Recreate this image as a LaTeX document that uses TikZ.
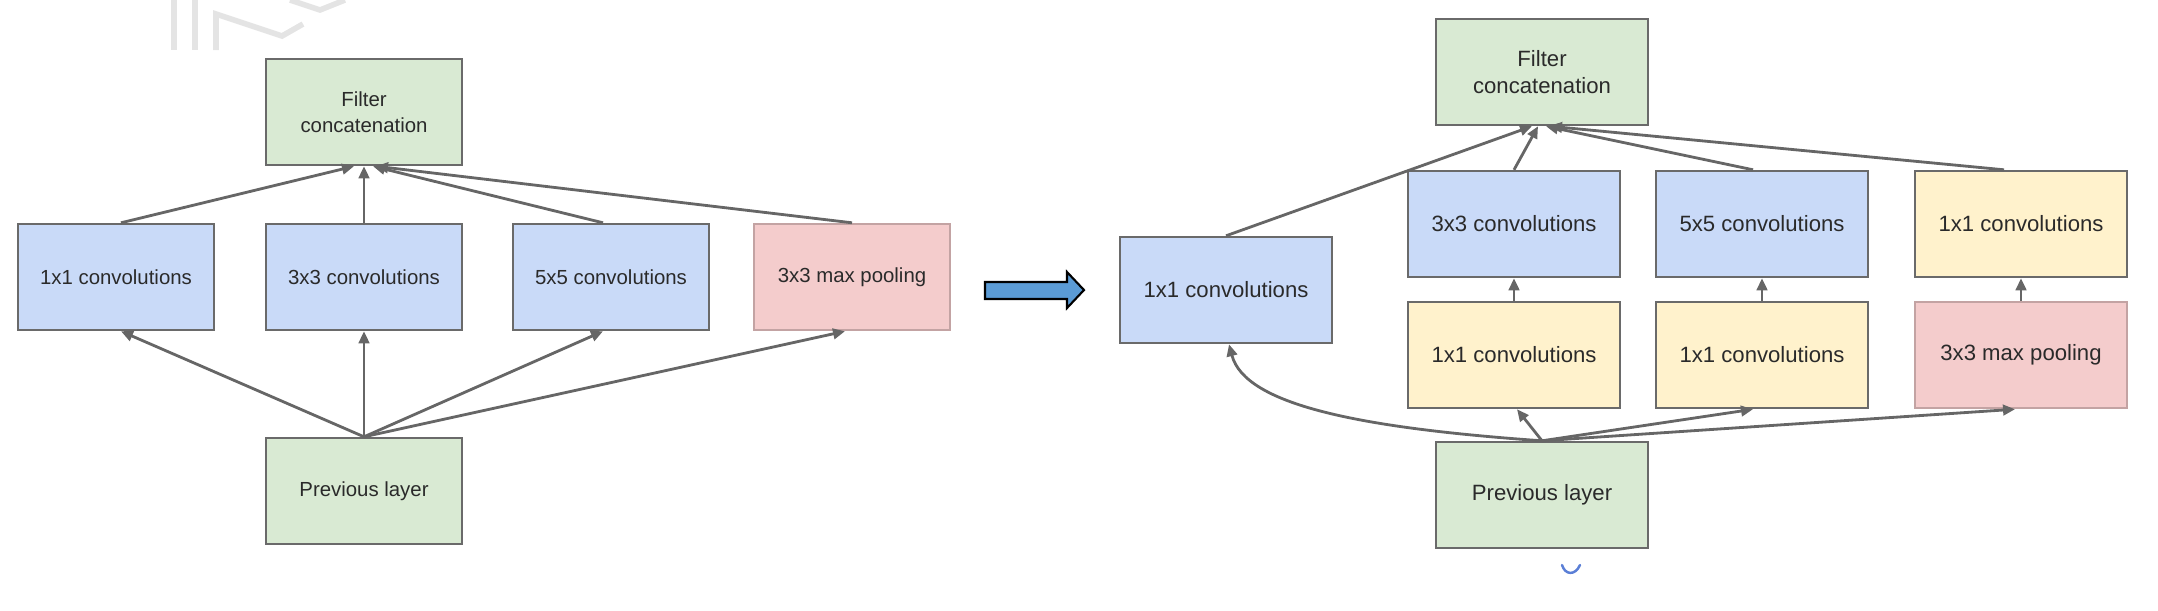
\documentclass[tikz,border=0pt]{standalone}
\usepackage{fontspec}
\setmainfont{Liberation Sans}
\usetikzlibrary{arrows.meta,calc}
\definecolor{gfill}{HTML}{D9EAD3}
\definecolor{bfill}{HTML}{C9DAF8}
\definecolor{rfill}{HTML}{F4CCCC}
\definecolor{yfill}{HTML}{FFF2CC}
\definecolor{edgec}{HTML}{6A6A6A}
\definecolor{arrc}{HTML}{666666}
\definecolor{txtc}{HTML}{2A2A2A}
\definecolor{bigarrow}{HTML}{5B9BD5}
\definecolor{tickc}{HTML}{5B7FD6}
\definecolor{wmark}{HTML}{E4E4E4}
\begin{document}
\begin{tikzpicture}[x=0.1mm,y=-0.1mm,
  box/.style={draw=edgec, line width=0.7pt, minimum width=19.6mm, minimum height=10.6mm,
    inner sep=0pt, align=center, text=txtc, font=\fontsize{5.8}{7.4}\selectfont},
  rbox/.style={box, minimum width=21.2mm, font=\fontsize{6.3}{7.8}\selectfont},
  conn/.style={draw=arrc, line width=0.8pt, -{Triangle[length=1.2mm,width=1.05mm]}},
  wm/.style={draw=wmark, line width=1.6pt}
]
\useasboundingbox (0,0) rectangle (2158,610);
% faint watermark
\draw[wm] (174,0) -- (174,50);
\draw[wm] (195,0) -- (195,50);
\draw[wm] (216,50) -- (216,14) -- (282,36) -- (303,24);
\draw[wm] (290,0) -- (320,10) -- (345,0);

% ---------- left diagram ----------
\node[box, fill=gfill] (Lfc) at (364,112) {Filter\\concatenation};
\node[box, fill=bfill] (L1) at (116,277) {1x1 convolutions};
\node[box, fill=bfill] (L3) at (364,277) {3x3 convolutions};
\node[box, fill=bfill] (L5) at (611,277) {5x5 convolutions};
\node[box, fill=rfill, draw=rfill!80!black] (Lp) at (852,277) {3x3 max pooling};
\node[box, fill=gfill] (Lprev) at (364,491) {Previous layer};

\draw[conn] (Lprev.north) -- ([xshift=0.5mm]L1.south);
\draw[conn] (Lprev.north) -- (L3.south);
\draw[conn] (Lprev.north) -- ([xshift=-0.8mm]L5.south);
\draw[conn] (Lprev.north) -- ([xshift=-0.7mm]Lp.south);
\draw[conn] ([xshift=0.5mm]L1.north) -- ([xshift=-1mm]Lfc.south);
\draw[conn] (L3.north) -- (Lfc.south);
\draw[conn] ([xshift=-0.8mm]L5.north) -- ([xshift=0.9mm]Lfc.south);
\draw[conn] (Lp.north) -- ([xshift=1.2mm]Lfc.south);

% ---------- big arrow ----------
\filldraw[fill=bigarrow, draw=black, line width=0.6pt]
  (985,282) -- (1067,282) -- (1067,272) -- (1084,290) -- (1067,308) -- (1067,299) -- (985,299) -- cycle;

% ---------- right diagram ----------
\node[rbox, fill=gfill] (Rfc) at (1542,72) {Filter\\concatenation};
\node[rbox, fill=bfill] (R3) at (1514,224) {3x3 convolutions};
\node[rbox, fill=bfill] (R5) at (1762,224) {5x5 convolutions};
\node[rbox, fill=yfill] (Rt1) at (2021,224) {1x1 convolutions};
\node[rbox, fill=bfill] (Rl1) at (1226,290) {1x1 convolutions};
\node[rbox, fill=yfill] (Ry1) at (1514,355) {1x1 convolutions};
\node[rbox, fill=yfill] (Ry2) at (1762,355) {1x1 convolutions};
\node[rbox, fill=rfill, draw=rfill!80!black] (Rpool) at (2021,355) {3x3 max pooling};
\node[rbox, fill=gfill] (Rprev) at (1542,495) {Previous layer};

\draw[conn] (Rl1.north) -- ([xshift=-1mm]Rfc.south);
\draw[conn] (R3.north) -- ([xshift=-0.4mm]Rfc.south);
\draw[conn] ([xshift=-0.9mm]R5.north) -- ([xshift=0.4mm]Rfc.south);
\draw[conn] ([xshift=-1.7mm]Rt1.north) -- ([xshift=0.8mm]Rfc.south);
\draw[conn] (Ry1.north) -- (R3.south);
\draw[conn] (Ry2.north) -- (R5.south);
\draw[conn] (Rpool.north) -- (Rt1.south);
\draw[conn] (Rprev.north) .. controls (1360,428) and (1245,405) .. ([xshift=0.3mm]Rl1.south);
\draw[conn] (Rprev.north) -- ([xshift=0.3mm]Ry1.south);
\draw[conn] (Rprev.north) -- ([xshift=-0.9mm]Ry2.south);
\draw[conn] (Rprev.north) -- ([xshift=-0.6mm]Rpool.south);

% small blue mark below
\draw[tickc, line width=0.7pt, line cap=round] (1562,565) .. controls (1565,575) and (1575,576) .. (1580,565);
\end{tikzpicture}
\end{document}
